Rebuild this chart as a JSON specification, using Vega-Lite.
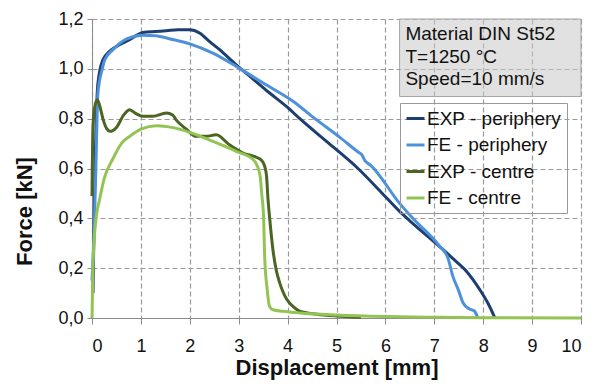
{
  "$schema": "https://vega.github.io/schema/vega-lite/v6.json",
  "width": 489,
  "height": 299,
  "autosize": {"type": "none"},
  "padding": {"left": 92, "top": 19, "right": 26, "bottom": 69},
  "background": "white",
  "config": {
    "font": "Liberation Sans",
    "view": {"stroke": null},
    "axis": {
      "grid": true,
      "gridColor": "#9a9a9a",
      "gridDash": [5, 3],
      "gridWidth": 1.2,
      "domainColor": "#8c8c8c",
      "tickColor": "#8c8c8c",
      "labelFont": "Liberation Sans",
      "labelFontSize": 18,
      "labelColor": "#111",
      "titleFont": "Liberation Sans",
      "titleFontSize": 22,
      "titleFontWeight": "bold",
      "titleColor": "#111"
    }
  },
  "datasets": {
    "box": [
      {"x0": 6.29, "x1": 10, "y0": 0.889, "y1": 1.2, "tx": 6.41, "ty": 1.175, "label": "Material DIN St52\nT=1250 °C\nSpeed=10 mm/s"}
    ],
    "curves": [
      {"series": "EXP - periphery", "d": 0.02, "f": 0.1},
      {"series": "EXP - periphery", "d": 0.05, "f": 0.47},
      {"series": "EXP - periphery", "d": 0.12, "f": 0.94},
      {"series": "EXP - periphery", "d": 0.22, "f": 1.035},
      {"series": "EXP - periphery", "d": 0.36, "f": 1.07},
      {"series": "EXP - periphery", "d": 0.5, "f": 1.09},
      {"series": "EXP - periphery", "d": 0.77, "f": 1.117},
      {"series": "EXP - periphery", "d": 1.04, "f": 1.146},
      {"series": "EXP - periphery", "d": 1.3, "f": 1.15},
      {"series": "EXP - periphery", "d": 1.52, "f": 1.153},
      {"series": "EXP - periphery", "d": 1.75, "f": 1.157},
      {"series": "EXP - periphery", "d": 2.0, "f": 1.157},
      {"series": "EXP - periphery", "d": 2.2, "f": 1.144},
      {"series": "EXP - periphery", "d": 2.4, "f": 1.11},
      {"series": "EXP - periphery", "d": 2.61, "f": 1.077},
      {"series": "EXP - periphery", "d": 2.95, "f": 1.016},
      {"series": "EXP - periphery", "d": 3.3, "f": 0.958},
      {"series": "EXP - periphery", "d": 3.6, "f": 0.908},
      {"series": "EXP - periphery", "d": 4.0, "f": 0.845},
      {"series": "EXP - periphery", "d": 4.25, "f": 0.8},
      {"series": "EXP - periphery", "d": 4.85, "f": 0.7},
      {"series": "EXP - periphery", "d": 5.44, "f": 0.6},
      {"series": "EXP - periphery", "d": 5.9, "f": 0.508},
      {"series": "EXP - periphery", "d": 6.29, "f": 0.428},
      {"series": "EXP - periphery", "d": 6.5, "f": 0.39},
      {"series": "EXP - periphery", "d": 7.14, "f": 0.281},
      {"series": "EXP - periphery", "d": 7.4, "f": 0.235},
      {"series": "EXP - periphery", "d": 7.66, "f": 0.187},
      {"series": "EXP - periphery", "d": 7.93, "f": 0.114},
      {"series": "EXP - periphery", "d": 8.1, "f": 0.058},
      {"series": "EXP - periphery", "d": 8.24, "f": 0.0},
      {"series": "FE - periphery", "d": 0.0, "f": 0.15},
      {"series": "FE - periphery", "d": 0.05, "f": 0.39},
      {"series": "FE - periphery", "d": 0.08, "f": 0.61},
      {"series": "FE - periphery", "d": 0.12, "f": 0.9},
      {"series": "FE - periphery", "d": 0.21, "f": 1.0},
      {"series": "FE - periphery", "d": 0.26, "f": 1.036},
      {"series": "FE - periphery", "d": 0.43, "f": 1.077},
      {"series": "FE - periphery", "d": 0.71, "f": 1.12},
      {"series": "FE - periphery", "d": 1.03, "f": 1.135},
      {"series": "FE - periphery", "d": 1.3, "f": 1.133},
      {"series": "FE - periphery", "d": 1.6, "f": 1.12},
      {"series": "FE - periphery", "d": 2.0, "f": 1.1},
      {"series": "FE - periphery", "d": 2.47, "f": 1.063},
      {"series": "FE - periphery", "d": 2.95, "f": 1.01},
      {"series": "FE - periphery", "d": 3.5, "f": 0.943},
      {"series": "FE - periphery", "d": 4.11, "f": 0.87},
      {"series": "FE - periphery", "d": 4.56, "f": 0.8},
      {"series": "FE - periphery", "d": 5.07, "f": 0.725},
      {"series": "FE - periphery", "d": 5.45, "f": 0.665},
      {"series": "FE - periphery", "d": 5.52, "f": 0.655},
      {"series": "FE - periphery", "d": 5.58, "f": 0.632},
      {"series": "FE - periphery", "d": 5.7, "f": 0.613},
      {"series": "FE - periphery", "d": 6.29, "f": 0.46},
      {"series": "FE - periphery", "d": 6.56, "f": 0.4},
      {"series": "FE - periphery", "d": 7.1, "f": 0.29},
      {"series": "FE - periphery", "d": 7.28, "f": 0.24},
      {"series": "FE - periphery", "d": 7.38, "f": 0.167},
      {"series": "FE - periphery", "d": 7.49, "f": 0.114},
      {"series": "FE - periphery", "d": 7.59, "f": 0.06},
      {"series": "FE - periphery", "d": 7.72, "f": 0.036},
      {"series": "FE - periphery", "d": 7.82, "f": 0.028},
      {"series": "FE - periphery", "d": 7.89, "f": 0.0},
      {"series": "EXP - centre", "d": 0.0, "f": 0.49},
      {"series": "EXP - centre", "d": 0.02, "f": 0.77},
      {"series": "EXP - centre", "d": 0.07, "f": 0.86},
      {"series": "EXP - centre", "d": 0.11, "f": 0.876},
      {"series": "EXP - centre", "d": 0.16, "f": 0.85},
      {"series": "EXP - centre", "d": 0.23, "f": 0.795},
      {"series": "EXP - centre", "d": 0.3, "f": 0.76},
      {"series": "EXP - centre", "d": 0.37, "f": 0.749},
      {"series": "EXP - centre", "d": 0.5, "f": 0.765},
      {"series": "EXP - centre", "d": 0.65, "f": 0.815},
      {"series": "EXP - centre", "d": 0.77, "f": 0.836},
      {"series": "EXP - centre", "d": 0.9, "f": 0.82},
      {"series": "EXP - centre", "d": 1.04, "f": 0.81},
      {"series": "EXP - centre", "d": 1.25, "f": 0.81},
      {"series": "EXP - centre", "d": 1.52, "f": 0.823},
      {"series": "EXP - centre", "d": 1.65, "f": 0.815},
      {"series": "EXP - centre", "d": 1.72, "f": 0.795},
      {"series": "EXP - centre", "d": 1.93, "f": 0.758},
      {"series": "EXP - centre", "d": 2.13, "f": 0.729},
      {"series": "EXP - centre", "d": 2.33, "f": 0.729},
      {"series": "EXP - centre", "d": 2.54, "f": 0.735},
      {"series": "EXP - centre", "d": 2.81, "f": 0.695},
      {"series": "EXP - centre", "d": 3.09, "f": 0.662},
      {"series": "EXP - centre", "d": 3.36, "f": 0.645},
      {"series": "EXP - centre", "d": 3.47, "f": 0.632},
      {"series": "EXP - centre", "d": 3.53, "f": 0.61},
      {"series": "EXP - centre", "d": 3.57, "f": 0.568},
      {"series": "EXP - centre", "d": 3.6, "f": 0.475},
      {"series": "EXP - centre", "d": 3.63, "f": 0.408},
      {"series": "EXP - centre", "d": 3.7, "f": 0.274},
      {"series": "EXP - centre", "d": 3.77, "f": 0.19},
      {"series": "EXP - centre", "d": 3.84, "f": 0.14},
      {"series": "EXP - centre", "d": 3.94, "f": 0.09},
      {"series": "EXP - centre", "d": 4.04, "f": 0.06},
      {"series": "EXP - centre", "d": 4.15, "f": 0.04},
      {"series": "EXP - centre", "d": 4.25, "f": 0.027},
      {"series": "EXP - centre", "d": 4.6, "f": 0.015},
      {"series": "EXP - centre", "d": 5.0, "f": 0.008},
      {"series": "EXP - centre", "d": 5.5, "f": 0.003},
      {"series": "FE - centre", "d": 0.0, "f": 0.0},
      {"series": "FE - centre", "d": 0.02, "f": 0.21},
      {"series": "FE - centre", "d": 0.04, "f": 0.3},
      {"series": "FE - centre", "d": 0.09, "f": 0.41},
      {"series": "FE - centre", "d": 0.16, "f": 0.48},
      {"series": "FE - centre", "d": 0.25, "f": 0.56},
      {"series": "FE - centre", "d": 0.43, "f": 0.64},
      {"series": "FE - centre", "d": 0.6, "f": 0.7},
      {"series": "FE - centre", "d": 0.77, "f": 0.729},
      {"series": "FE - centre", "d": 1.0, "f": 0.758},
      {"series": "FE - centre", "d": 1.32, "f": 0.772},
      {"series": "FE - centre", "d": 1.66, "f": 0.764},
      {"series": "FE - centre", "d": 2.0, "f": 0.745},
      {"series": "FE - centre", "d": 2.47, "f": 0.709},
      {"series": "FE - centre", "d": 2.95, "f": 0.669},
      {"series": "FE - centre", "d": 3.3, "f": 0.635},
      {"series": "FE - centre", "d": 3.38, "f": 0.61},
      {"series": "FE - centre", "d": 3.44, "f": 0.568},
      {"series": "FE - centre", "d": 3.47, "f": 0.5},
      {"series": "FE - centre", "d": 3.51, "f": 0.4},
      {"series": "FE - centre", "d": 3.53, "f": 0.25},
      {"series": "FE - centre", "d": 3.58, "f": 0.12},
      {"series": "FE - centre", "d": 3.63, "f": 0.047},
      {"series": "FE - centre", "d": 3.7, "f": 0.033},
      {"series": "FE - centre", "d": 3.9, "f": 0.027},
      {"series": "FE - centre", "d": 4.26, "f": 0.02},
      {"series": "FE - centre", "d": 5.0, "f": 0.012},
      {"series": "FE - centre", "d": 6.0, "f": 0.006},
      {"series": "FE - centre", "d": 7.0, "f": 0.003},
      {"series": "FE - centre", "d": 8.0, "f": 0.001},
      {"series": "FE - centre", "d": 10.0, "f": 0.0}
    ]
  },
  "layer": [
    {
      "data": {"name": "box"},
      "mark": {"type": "rect", "fill": "#c8c8c8", "fillOpacity": 0.55, "stroke": "#a5a5a5", "strokeWidth": 1},
      "encoding": {
        "x": {"field": "x0", "type": "quantitative"},
        "x2": {"field": "x1"},
        "y": {"field": "y0", "type": "quantitative"},
        "y2": {"field": "y1"}
      }
    },
    {
      "data": {"name": "curves"},
      "mark": {"type": "line", "strokeWidth": 3, "interpolate": "monotone"},
      "encoding": {
        "x": {"field": "d", "type": "quantitative", "scale": {"domain": [0, 10], "nice": false},
          "axis": {"grid": true, "values": [0,1,2,3,4,5,6,7,8,9,10], "title": "Displacement [mm]", "tickSize": 6, "labelPadding": 13, "titlePadding": 2}},
        "y": {"field": "f", "type": "quantitative", "scale": {"domain": [0, 1.2], "nice": false},
          "axis": {"grid": true, "values": [0, 0.2, 0.4, 0.6, 0.8, 1.0, 1.2], "labelExpr": "replace(format(datum.value, '.1f'), '.', ',')", "title": "Force [kN]", "tickSize": 5, "labelPadding": 4, "titleX": -61, "titleY": 192, "titleAlign": "center", "titleBaseline": "alphabetic", "titleAngle": -90}},
        "color": {
          "field": "series", "type": "nominal",
          "scale": {"domain": ["EXP - periphery", "FE - periphery", "EXP - centre", "FE - centre"],
                    "range": ["#1d3f70", "#4d91db", "#4b6523", "#93c453"]},
          "legend": {"orient": "none", "legendX": 308, "legendY": 84, "title": null,
                     "symbolType": "stroke", "symbolStrokeWidth": 3, "symbolSize": 324,
                     "labelFontSize": 19, "labelColor": "#111", "labelFont": "Liberation Sans",
                     "rowPadding": 5.5, "padding": 5, "strokeColor": "#9a9a9a", "labelOffset": 1}
        }
      }
    },
    {
      "data": {"name": "box"},
      "mark": {"type": "text", "align": "left", "baseline": "top", "fontSize": 19, "lineBreak": "\n", "lineHeight": 22.5, "color": "#111", "font": "Liberation Sans"},
      "encoding": {
        "x": {"field": "tx", "type": "quantitative"},
        "y": {"field": "ty", "type": "quantitative"},
        "text": {"field": "label"}
      }
    }
  ]
}
